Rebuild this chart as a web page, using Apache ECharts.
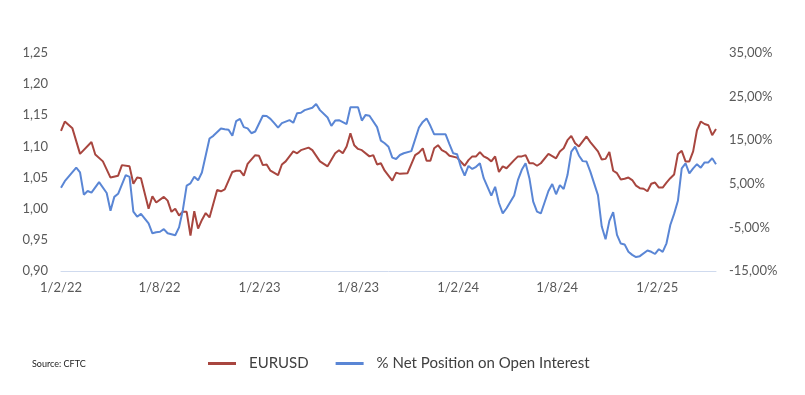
<!DOCTYPE html>
<html>
<head>
<meta charset="utf-8">
<script src="https://cdn.jsdelivr.net/npm/echarts@6/dist/echarts.min.js"></script>
<style>
html,body{margin:0;padding:0;background:#fff;}
#chart{width:805px;height:395px;}
</style>
</head>
<body>
<div id="chart"></div>
<script>
// Weekly CFTC observations (Tuesdays), counted in weeks from 1 Feb 2022
const startDate = [2022, 1, 1];
const tickDates = ['2022-02-01','2022-08-01','2023-02-01','2023-08-01','2024-02-01','2024-08-01','2025-02-01'];

const eurWeeks = [0,1,3,5,8,9,11,13,15,16,18,19,20,21,23,24,25,27,28,29,30,31,32,33,34,35,36,37,38,39,41,42,43,45,46,47,48,49,51,52,53,54,55,57,58,59,61,62,63,65,66,68,70,72,73,74,75,76,77,78,79,81,82,83,84,85,87,88,89,91,93,94,95,96,97,98,99,100,101,102,104,106,107,108,109,110,111,112,113,114,115,116,117,119,120,121,122,123,124,125,126,128,130,131,132,133,134,135,136,137,138,139,141,142,143,144,145,146,147,148,149,150,151,152,153,154,155,156,157,158,159,160,161,162,163,164,165,166,167,168,169,170,171,172];
const eurValues = [1.125,1.140,1.129,1.088,1.107,1.087,1.076,1.050,1.053,1.070,1.068,1.040,1.050,1.049,1.000,1.020,1.010,1.019,1.013,0.995,1.000,0.989,0.995,0.995,0.957,0.996,0.968,0.982,0.993,0.986,1.030,1.028,1.031,1.059,1.061,1.061,1.053,1.072,1.086,1.085,1.070,1.071,1.061,1.054,1.071,1.076,1.092,1.089,1.094,1.098,1.094,1.076,1.068,1.089,1.094,1.089,1.100,1.121,1.102,1.096,1.094,1.084,1.086,1.071,1.073,1.061,1.045,1.058,1.056,1.057,1.086,1.090,1.097,1.077,1.077,1.097,1.102,1.094,1.091,1.085,1.082,1.069,1.078,1.084,1.084,1.091,1.084,1.081,1.076,1.084,1.059,1.068,1.065,1.078,1.084,1.084,1.086,1.073,1.073,1.069,1.073,1.088,1.081,1.092,1.097,1.110,1.117,1.105,1.100,1.108,1.116,1.107,1.092,1.079,1.080,1.091,1.061,1.057,1.047,1.048,1.050,1.046,1.037,1.033,1.032,1.028,1.040,1.042,1.034,1.034,1.042,1.049,1.055,1.088,1.093,1.076,1.076,1.092,1.126,1.140,1.136,1.134,1.118,1.128];

const netWeeks = [0,1,4,5,6,7,8,10,12,13,14,15,17,18,19,20,21,23,24,25,26,27,28,30,31,32,33,34,35,36,37,39,40,42,43,44,45,46,47,48,49,50,51,53,54,55,56,57,58,60,61,62,63,64,66,67,68,70,71,72,73,75,76,78,79,80,81,83,84,85,86,87,88,89,90,92,94,95,96,97,98,101,102,103,104,105,106,107,108,109,110,111,113,114,115,116,117,119,120,121,122,123,124,125,126,128,129,130,131,132,133,134,135,136,137,138,139,140,141,142,143,144,145,146,147,148,149,150,151,152,154,155,156,157,158,159,160,161,162,163,164,165,166,167,168,169,170,171,172];
const netValues = [4.1,5.6,8.7,7.6,2.5,3.35,2.96,5.4,2.9,-1.2,2.0,2.7,7.0,6.6,-1.4,-2.55,-1.9,-4.1,-6.35,-6.1,-6.0,-5.4,-6.35,-6.8,-5.0,-1.0,4.6,5.1,6.6,5.8,7.6,15.4,16.0,17.7,17.5,17.4,16.0,19.4,19.9,18.0,17.7,16.6,17.0,20.6,20.55,19.9,18.9,17.9,18.9,19.6,19.0,21.2,21.3,21.9,22.45,23.3,21.9,20.2,18.3,19.5,19.6,18.7,22.55,22.55,19.5,20.8,20.6,18.0,14.9,14.3,13.5,11.0,10.7,11.6,12.0,12.5,17.9,19.2,20.0,18.3,16.35,16.35,14.1,12.0,11.8,8.9,6.9,9.1,8.4,8.9,9.7,6.3,2.3,4.3,0.6,-1.8,-0.6,2.3,5.9,8.2,9.7,6.3,0.9,-1.4,-1.8,3.35,4.95,2.6,4.7,3.8,7.0,12.4,13.5,11.5,10.2,10.1,7.8,5.1,2.4,-4.8,-7.7,-3.5,-1.5,-6.7,-8.7,-8.9,-10.6,-11.3,-11.8,-11.6,-10.3,-10.6,-11.1,-10.0,-10.6,-8.65,-4.45,-1.9,1.1,8.55,9.7,7.4,8.55,9.5,8.7,9.9,9.9,10.85,9.5];

const DAY = 86400000;
const t0 = Date.UTC(startDate[0], startDate[1], startDate[2]);
function toWeek(s){ const p = s.split('-').map(Number); return (Date.UTC(p[0], p[1]-1, p[2]) - t0) / (7*DAY); }
function weekLabel(w){ const d = new Date(t0 + w*7*DAY + DAY/2); return d.getUTCDate() + '/' + (d.getUTCMonth()+1) + '/' + String(d.getUTCFullYear()).slice(2); }
const tickWeeks = tickDates.map(toWeek);

const eurData = eurWeeks.map((w,i)=>[w, eurValues[i]]);
const netData = netWeeks.map((w,i)=>[w, netValues[i]]);

const FONT = 'Lato';
const chart = echarts.init(document.getElementById('chart'));
chart.setOption({
  animation: false,
  backgroundColor: '#ffffff',
  grid: {left: 61, right: 89, top: 53, bottom: 124, containLabel: false},
  xAxis: {
    type: 'value', min: 0, max: 172,
    axisLine: {show: true, onZero: false, lineStyle: {color: '#CFDAEE', width: 1}},
    axisTick: {show: false},
    splitLine: {show: false},
    axisLabel: {customValues: tickWeeks, formatter: v => weekLabel(v), color: '#595959', fontFamily: FONT, fontSize: 13, margin: 10, showMinLabel: true, showMaxLabel: true}
  },
  yAxis: [
    {type: 'value', min: 0.9, max: 1.25, interval: 0.05, position: 'left',
     axisLine: {show: false}, axisTick: {show: false}, splitLine: {show: false},
     axisLabel: {formatter: v => v.toFixed(2).replace('.', ','), color: '#595959', fontFamily: FONT, fontSize: 13, margin: 13}},
    {type: 'value', min: -15, max: 35, interval: 10, position: 'right',
     axisLine: {show: false}, axisTick: {show: false}, splitLine: {show: false},
     axisLabel: {formatter: v => v.toFixed(2).replace('.', ',') + '%', color: '#595959', fontFamily: FONT, fontSize: 13, margin: 13}}
  ],
  legend: {
    left: 208, top: 356, padding: 0, itemWidth: 28, itemHeight: 3, itemGap: 27, icon: 'rect',
    textStyle: {color: '#404040', fontFamily: FONT, fontSize: 15, padding: [0,0,0,8]},
    data: ['EURUSD', '% Net Position on Open Interest']
  },
  graphic: [{type: 'text', left: 32, top: 360, style: {text: 'Source: CFTC', fill: '#222', font: '9px ' + FONT, shadowBlur: 3, shadowColor: 'rgba(0,0,0,0.35)', shadowOffsetY: 1}}],
  series: [
    {name: 'EURUSD', type: 'line', yAxisIndex: 0, data: eurData, symbol: 'none', lineStyle: {color: '#A8463F', width: 2}, itemStyle: {color: '#A8463F'}},
    {name: '% Net Position on Open Interest', type: 'line', yAxisIndex: 1, data: netData, symbol: 'none', lineStyle: {color: '#5A86D5', width: 2}, itemStyle: {color: '#5A86D5'}}
  ]
});
</script>
</body>
</html>
